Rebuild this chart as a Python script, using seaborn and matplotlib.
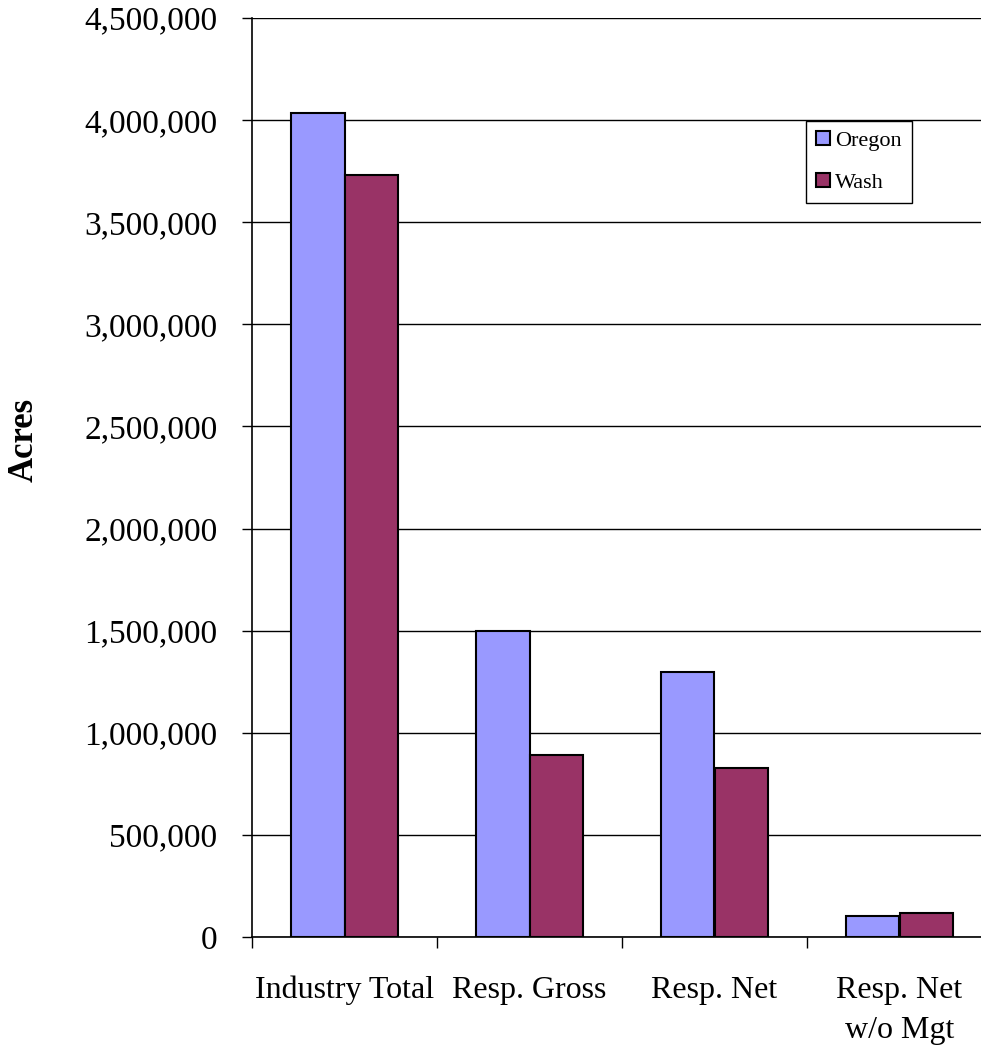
import seaborn as sns
import matplotlib.pyplot as plt
import pandas as pd
import numpy as np
from matplotlib.patches import Patch
from matplotlib.ticker import FuncFormatter, MultipleLocator

categories = ["Industry Total", "Resp. Gross", "Resp. Net", "Resp. Net\nw/o Mgt"]
oregon = [4035000, 1500000, 1300000, 103000]
wash = [3730000, 891000, 828000, 118000]
states = ["Oregon", "Wash"]
colors = ["#9999FF", "#993366"]

df = pd.DataFrame({
    "category": categories * 2,
    "acres": oregon + wash,
    "state": ["Oregon"] * 4 + ["Wash"] * 4,
})

sns.set_style("white")
plt.rcParams['font.family'] = ['Liberation Serif', 'DejaVu Serif']
plt.rcParams['text.color'] = 'black'
plt.rcParams['xtick.color'] = 'black'
plt.rcParams['ytick.color'] = 'black'
plt.rcParams['axes.labelcolor'] = 'black'

fig = plt.figure(figsize=(9.81, 10.59), dpi=100)
ax = fig.add_axes([252 / 981, (1059 - 937) / 1059, 740 / 981, 919 / 1059])

sns.barplot(data=df, x="category", y="acres", hue="state", palette=colors,
            saturation=1, width=0.58, edgecolor="black", linewidth=1.5,
            ax=ax, legend=False)

ax.set_ylim(0, 4500000)
ax.set_xlim(-0.5, 3.5)
ax.yaxis.set_major_locator(MultipleLocator(500000))
ax.yaxis.set_major_formatter(FuncFormatter(lambda v, p: f"{int(v):,}"))
ax.grid(axis="y", color="black", linewidth=1)
ax.set_axisbelow(True)

for s in ["top", "right"]:
    ax.spines[s].set_visible(False)
for s in ["left", "bottom"]:
    ax.spines[s].set_color("black")
    ax.spines[s].set_linewidth(1.2)

ax.tick_params(axis="y", which="major", direction="out", length=7, width=1,
               color="black", left=True, labelsize=24, pad=18)
ax.tick_params(axis="x", which="major", length=0, labelsize=23, pad=28)
ax.set_xticks(np.arange(-0.5, 3.6, 1), minor=True)
ax.tick_params(axis="x", which="minor", direction="out", length=8, width=1,
               color="black", bottom=True)
for lbl in ax.get_xticklabels():
    lbl.set_linespacing(1.5)
    lbl.set_verticalalignment("top")

ax.set_xlabel("")
ax.set_ylabel("Acres", fontsize=25, fontweight="bold")
ax.yaxis.set_label_coords(-0.308, 0.541)
ax.yaxis.label.set_verticalalignment("center")

handles = [Patch(facecolor=c, edgecolor="black", linewidth=1.5) for c in colors]
leg = ax.legend(handles, states, loc="upper left", bbox_to_anchor=(0.749, 0.888),
                fontsize=16, frameon=True, fancybox=False, edgecolor="black",
                handlelength=0.6, handleheight=0.6, handletextpad=0.25,
                labelspacing=1.0, borderpad=0.45, borderaxespad=0, framealpha=1)
leg.get_frame().set_linewidth(1)

fig.savefig("out.png", dpi=100)
